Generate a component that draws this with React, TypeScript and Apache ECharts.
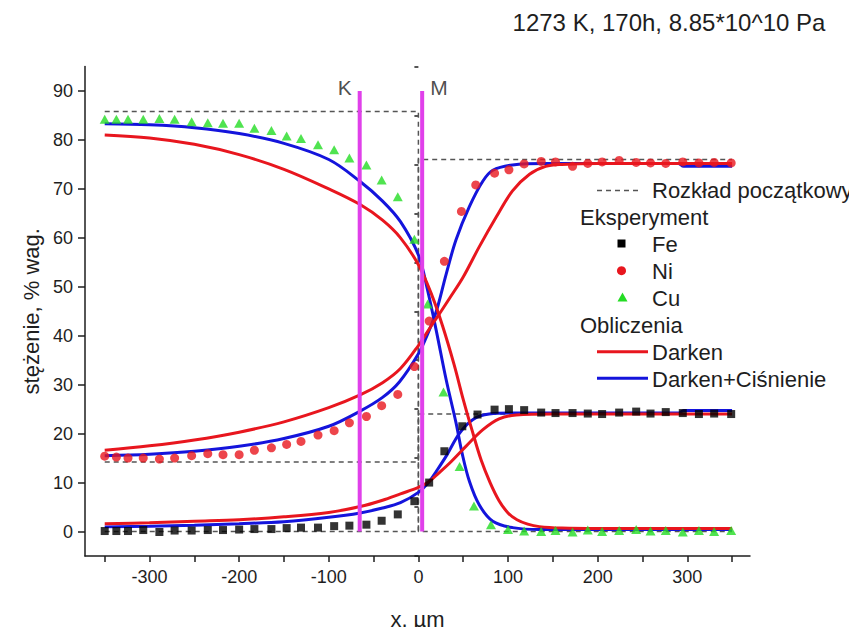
import React, { useEffect, useRef } from "react";
import * as echarts from "echarts";

const FONT = '"Liberation Sans", Arial, Helvetica, sans-serif';
const TITLE = "1273 K, 170h, 8.85*10^10 Pa";

// axis ticks
const xTickValues = [-350, -300, -250, -200, -150, -100, -50, 0, 50, 100, 150, 200, 250, 300, 350];
const xLabelValues = [-300, -200, -100, 0, 100, 200, 300];
const yLabelValues = [0, 10, 20, 30, 40, 50, 60, 70, 80, 90];
const yMinorValues = [-5, 5, 15, 25, 35, 45, 55, 65, 75, 85, 95];

// initial distribution (Rozkład początkowy)
const initCu: [number, number][] = [[-350, 85.8], [0, 85.8], [0, 0], [350, 0]];
const initNi: [number, number][] = [[-350, 14.2], [0, 14.2], [0, 76], [350, 76]];
const initFe: [number, number][] = [[-350, 0], [0, 0], [0, 24], [350, 24]];

// experiment
const expX = [-350, -337, -324, -307, -289, -272, -253, -235, -218, -200, -183, -164, -147, -131, -112, -94, -77, -58, -41, -23, -4.5];
const feLeft = [0.1, 0.1, 0.1, 0.3, -0.1, 0.2, 0.2, 0.3, 0.3, 0.4, 0.5, 0.5, 0.7, 0.8, 0.8, 1.1, 1.2, 1.4, 2.2, 3.5, 6.2];
const niLeft = [15.4, 15.2, 15.0, 15.0, 14.8, 15.0, 15.5, 15.9, 15.7, 15.7, 16.6, 17.1, 17.8, 18.4, 19.7, 20.6, 22.2, 23.5, 25.7, 28.0, 33.7];
const cuLeft = [84.2, 84.2, 84.2, 84.2, 84.4, 84.2, 83.7, 83.5, 83.4, 83.4, 82.4, 81.9, 80.8, 80.3, 79.0, 78.0, 76.3, 74.9, 71.8, 68.4, 59.7];

const feRightX = [12, 29, 49, 66, 85, 101, 118, 137, 153, 172, 189, 205, 224, 243, 259, 276, 295, 313, 330, 349];
const feRight = [10.0, 16.4, 21.5, 23.9, 24.9, 25.0, 24.8, 24.3, 24.2, 24.2, 24.1, 24.0, 24.3, 24.5, 24.1, 24.4, 24.2, 24.0, 24.1, 24.0];
const niRightX = [12, 29, 48, 64, 85, 101, 118, 137, 153, 172, 189, 205, 224, 243, 259, 276, 295, 313, 330, 349];
const niRight = [43.0, 55.2, 65.4, 70.8, 73.2, 73.9, 75.1, 75.6, 75.5, 74.6, 75.2, 75.5, 75.8, 75.4, 75.3, 75.2, 75.5, 75.3, 75.4, 75.3];
const cuRightX = [10.4, 28, 46, 62, 81, 100, 118, 137, 153, 172, 189, 205, 224, 243, 259, 276, 295, 313, 330, 349];
const cuRight = [46.5, 28.5, 13.3, 5.2, 1.4, 0.4, 0.1, 0.0, 0.2, -0.1, 0.3, 0.0, 0.2, 0.4, 0.1, 0.2, -0.1, 0.2, 0.0, 0.2];

// calculations: Darken (red)
const cuDarken: [number, number][] = [[-350, 81.0], [-300, 80.4], [-250, 79.1], [-200, 77.0], [-150, 74.0], [-100, 70.0], [-65, 66.8], [-40, 63.6], [-20, 60.0], [0, 54.5], [15, 48.3], [27, 42.0], [40, 34.0], [50, 27.0], [60, 20.6], [70, 14.6], [80, 10.0], [90, 6.3], [100, 3.8], [110, 2.4], [122, 1.5], [135, 1.0], [160, 0.7], [200, 0.6], [350, 0.6]];
const niDarken: [number, number][] = [[-350, 16.6], [-300, 17.5], [-250, 18.7], [-200, 20.3], [-150, 22.4], [-100, 25.3], [-65, 27.9], [-40, 30.4], [-20, 33.3], [0, 38.0], [15, 42.2], [25, 44.9], [35, 47.7], [50, 52.0], [68, 58.2], [87, 64.3], [105, 69.6], [124, 73.0], [142, 74.6], [160, 75.0], [200, 75.2], [350, 75.2]];
const feDarken: [number, number][] = [[-350, 1.6], [-300, 1.8], [-250, 2.1], [-200, 2.4], [-150, 3.0], [-100, 3.9], [-65, 5.1], [-40, 6.4], [-20, 7.7], [0, 9.0], [12, 10.2], [23, 12.0], [35, 14.0], [53, 17.4], [72, 20.8], [90, 23.0], [109, 23.8], [150, 24.0], [350, 24.0]];

// calculations: Darken + Ciśnienie (blue)
const cuPressure: [number, number][] = [[-350, 83.3], [-300, 83.1], [-250, 82.5], [-200, 81.3], [-150, 79.3], [-100, 76.0], [-65, 71.5], [-40, 67.5], [-20, 63.3], [0, 56.5], [10, 49.5], [20, 41.0], [31, 31.0], [42, 22.2], [49, 15.8], [57, 10.2], [68, 5.4], [83, 2.1], [105, 0.8], [135, 0.4], [350, 0.4]];
const niPressure: [number, number][] = [[-350, 15.5], [-300, 15.8], [-250, 16.4], [-200, 17.4], [-150, 19.0], [-100, 21.5], [-65, 24.6], [-40, 27.4], [-21, 30.6], [0, 36.3], [10, 40.2], [20, 45.0], [31, 52.6], [42, 59.6], [57, 66.4], [72, 71.6], [83, 73.8], [105, 74.9], [142, 75.2], [290, 75.2], [296, 74.6], [350, 74.6]];
const fePressure: [number, number][] = [[-350, 0.95], [-300, 1.1], [-250, 1.3], [-200, 1.6], [-150, 2.0], [-100, 2.9], [-65, 3.8], [-40, 4.8], [-20, 5.9], [0, 8.0], [12, 10.2], [20, 12.3], [31, 15.4], [46, 20.1], [61, 22.9], [79, 24.0], [105, 24.2], [290, 24.2], [296, 24.7], [350, 24.7]];

// marker lines
const markerNames = ["K", "M"];
const markerX = [-65.5, 4.2];
const markerTop = 90;

const RED = "#e8161e";
const BLUE = "#1414dc";
const GREEN = "#24dc24";
const MAGENTA = "#e040ea";
const GRAY = "#555555";
const TXT = "#1e1e1e";

const zip = (xs: number[], ys: number[]) => xs.map((x, i) => [x, ys[i]]);

export default function App() {
  const ref = useRef<HTMLDivElement>(null);
  useEffect(() => {
    if (!ref.current) return;
    const chart = echarts.init(ref.current, undefined, { renderer: "svg" });

    const dashed = (name: string, data: [number, number][]) => ({
      name, type: "line", data, symbol: "none", silent: true,
      lineStyle: { color: GRAY, width: 1.5, type: [5, 4] }, z: 2,
    });
    const curve = (name: string, data: [number, number][], color: string) => ({
      name, type: "line", data, symbol: "none", smooth: 0.35,
      lineStyle: { color, width: 3 }, z: 3,
    });

    const textStyle = (text: string, size: number, align = "left") => ({
      text, fontSize: size, fontFamily: FONT, fill: TXT,
      align, verticalAlign: "middle", textAlign: align, textVerticalAlign: "middle",
    });

    const option: any = {
      animation: false,
      backgroundColor: "#ffffff",
      textStyle: { fontFamily: FONT },
      grid: { left: 85, right: 107, top: 66.5, bottom: 78.5, containLabel: false },
      xAxis: {
        type: "value", min: -372, max: 370,
        axisLine: { show: true, onZero: false, lineStyle: { color: TXT, width: 1.5 } },
        axisTick: { show: true, customValues: xTickValues, length: 6, lineStyle: { color: TXT, width: 1.5 } },
        axisLabel: { customValues: xLabelValues, fontSize: 18, color: TXT, margin: 12, fontFamily: FONT },
        splitLine: { show: false },
        name: "x, µm", nameLocation: "middle", nameGap: 52,
        nameTextStyle: { fontSize: 22, color: TXT, fontFamily: FONT },
      },
      yAxis: [
        {
          type: "value", min: -5, max: 95,
          axisLine: { show: true, onZero: false, lineStyle: { color: TXT, width: 1.5 } },
          axisTick: { show: true, customValues: yLabelValues, length: 7, lineStyle: { color: TXT, width: 1.5 } },
          axisLabel: { customValues: yLabelValues, fontSize: 18, color: TXT, margin: 12, fontFamily: FONT },
          splitLine: { show: false },
          name: "stężenie, % wag.", nameLocation: "middle", nameGap: 42,
          nameTextStyle: { fontSize: 22, color: TXT, fontFamily: FONT },
        },
        {
          type: "value", min: -5, max: 95, position: "left",
          axisLine: { show: false },
          axisTick: { show: true, customValues: yMinorValues, length: 4, lineStyle: { color: TXT, width: 1.5 } },
          axisLabel: { show: false },
          splitLine: { show: false },
        },
      ],
      series: [
        dashed("init Cu", initCu),
        dashed("init Ni", initNi),
        dashed("init Fe", initFe),
        curve("Cu Darken+Ciśnienie", cuPressure, BLUE),
        curve("Ni Darken+Ciśnienie", niPressure, BLUE),
        curve("Fe Darken+Ciśnienie", fePressure, BLUE),
        curve("Cu Darken", cuDarken, RED),
        curve("Ni Darken", niDarken, RED),
        curve("Fe Darken", feDarken, RED),
        {
          name: "Fe", type: "scatter", symbol: "rect", symbolSize: 8, z: 4,
          itemStyle: { color: "#000000" },
          data: [...zip(expX, feLeft), ...zip(feRightX, feRight)],
        },
        {
          name: "Ni", type: "scatter", symbol: "circle", symbolSize: 9, z: 4,
          itemStyle: { color: RED },
          data: [...zip(expX, niLeft), ...zip(niRightX, niRight)],
        },
        {
          name: "Cu", type: "scatter", symbol: "triangle", symbolSize: [10, 9], z: 4,
          itemStyle: { color: GREEN },
          data: [...zip(expX, cuLeft), ...zip(cuRightX, cuRight)],
        },
        ...markerX.map((mx, i) => ({
          name: markerNames[i], type: "line", symbol: "none", z: 5, silent: true,
          lineStyle: { color: MAGENTA, width: 4 },
          data: [[mx, 0], [mx, markerTop]],
        })),
        {
          name: "marker labels", type: "scatter", symbolSize: 0, z: 6, silent: true,
          data: markerX.map((mx, i) => ({
            value: [mx, markerTop],
            label: {
              show: true, formatter: markerNames[i], position: i === 0 ? "left" : "right",
              distance: 8, offset: [0, -3], fontSize: 21, color: TXT, fontFamily: FONT,
            },
          })),
        },
      ],
      graphic: [
        { type: "text", x: 669, y: 22, style: textStyle(TITLE, 24, "center") },
        { type: "line", shape: { x1: 597, y1: 190.5, x2: 640, y2: 190.5 }, style: { stroke: GRAY, lineWidth: 1.5, lineDash: [5, 4] } },
        { type: "text", x: 652, y: 190.5, style: textStyle("Rozkład początkowy", 22) },
        { type: "text", x: 580, y: 217.5, style: textStyle("Eksperyment", 22) },
        { type: "rect", shape: { x: 617.5, y: 239.5, width: 8, height: 8 }, style: { fill: "#000000" } },
        { type: "text", x: 652, y: 244, style: textStyle("Fe", 22) },
        { type: "circle", shape: { cx: 621.5, cy: 270.7, r: 4.5 }, style: { fill: RED } },
        { type: "text", x: 652, y: 271, style: textStyle("Ni", 22) },
        { type: "polygon", shape: { points: [[622.5, 292.5], [627.5, 301.5], [617.5, 301.5]] }, style: { fill: GREEN } },
        { type: "text", x: 652, y: 298, style: textStyle("Cu", 22) },
        { type: "text", x: 580, y: 325, style: textStyle("Obliczenia", 22) },
        { type: "line", shape: { x1: 597, y1: 351.7, x2: 648, y2: 351.7 }, style: { stroke: RED, lineWidth: 3 } },
        { type: "text", x: 652, y: 352, style: textStyle("Darken", 22) },
        { type: "line", shape: { x1: 597, y1: 378.3, x2: 648, y2: 378.3 }, style: { stroke: BLUE, lineWidth: 3 } },
        { type: "text", x: 652, y: 379, style: textStyle("Darken+Ciśnienie", 22) },
      ],
    };

    chart.setOption(option);
    return () => chart.dispose();
  }, []);

  return <div ref={ref} style={{ width: 857, height: 635, margin: -8 }} />;
}
